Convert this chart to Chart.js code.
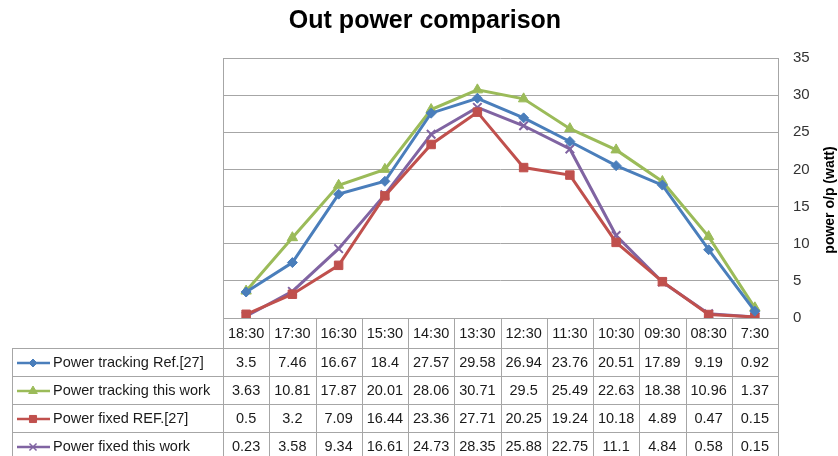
<!DOCTYPE html>
<html>
<head>
<meta charset="utf-8">
<script src="https://cdn.jsdelivr.net/npm/chart.js@4"></script>
<style>
    html, body { margin: 0; padding: 0; background: #fff; }
    #wrap { width: 838px; height: 456px; position: relative; }
</style>
</head>
<body>
<div id="wrap"><canvas id="chart"></canvas></div>
<script>
const times = ['18:30', '17:30', '16:30', '15:30', '14:30', '13:30', '12:30', '11:30', '10:30', '09:30', '08:30', '7:30'];
const trackingRef = [3.5, 7.46, 16.67, 18.4, 27.57, 29.58, 26.94, 23.76, 20.51, 17.89, 9.19, 0.92];
const trackingThis = [3.63, 10.81, 17.87, 20.01, 28.06, 30.71, 29.5, 25.49, 22.63, 18.38, 10.96, 1.37];
const fixedRef = [0.5, 3.2, 7.09, 16.44, 23.36, 27.71, 20.25, 19.24, 10.18, 4.89, 0.47, 0.15];
const fixedThis = [0.23, 3.58, 9.34, 16.61, 24.73, 28.35, 25.88, 22.75, 11.1, 4.84, 0.58, 0.15];
const yTicks = [0, 5, 10, 15, 20, 25, 30, 35];

const seriesNames = ['Power tracking Ref.[27]', 'Power tracking this work', 'Power fixed REF.[27]', 'Power fixed this work'];
const seriesData = [trackingRef, trackingThis, fixedRef, fixedThis];
const colors = ['#4a7ebb', '#9bbb59', '#c0504d', '#8064a2'];
const markers = ['rectRot', 'triangle', 'rect', 'crossRot'];
const markerSizes = [5, 6, 6, 6];

const gridColor = '#a6a6a6';
const fontFamily = '"Liberation Sans", Arial, sans-serif';
const textFont = '14.5px ' + fontFamily;

// Title, axis title and the data table under the plot
const tablePlugin = {
    id: 'tablePlugin',
    afterDraw(chart) {
        const ctx = chart.ctx;
        const area = chart.chartArea;
        const x = chart.scales.x;
        const half = (x.getPixelForValue(1) - x.getPixelForValue(0)) / 2;
        const headTop = area.bottom;
        const headBottom = headTop + 30;
        const rowH = 28;
        const legendLeft = 12;

        ctx.save();

        // title
        ctx.fillStyle = '#000';
        ctx.font = 'bold 25px ' + fontFamily;
        ctx.textAlign = 'center';
        ctx.textBaseline = 'middle';
        ctx.fillText('Out power comparison', 425, 21);

        // y axis title
        ctx.save();
        ctx.translate(830, 200);
        ctx.rotate(-Math.PI / 2);
        ctx.font = 'bold 14px ' + fontFamily;
        ctx.fillText('power o/p (watt)', 0, 0);
        ctx.restore();

        // plot left border
        ctx.strokeStyle = gridColor;
        ctx.lineWidth = 1;
        ctx.beginPath();
        ctx.moveTo(area.left + 0.5, area.top);
        ctx.lineTo(area.left + 0.5, area.bottom);
        ctx.stroke();

        const bottom = headBottom + rowH * seriesNames.length;

        // horizontal table lines
        ctx.beginPath();
        ctx.moveTo(area.left, headTop + 0.5);
        ctx.lineTo(area.right, headTop + 0.5);
        for (let r = 0; r <= seriesNames.length; r++) {
            const yy = Math.round(headBottom + r * rowH) + 0.5;
            ctx.moveTo(legendLeft, yy);
            ctx.lineTo(area.right, yy);
        }
        // vertical table lines
        for (let i = 0; i <= times.length; i++) {
            const xx = Math.round(x.getPixelForValue(0) - half + i * 2 * half) + 0.5;
            ctx.moveTo(xx, headTop);
            ctx.lineTo(xx, bottom);
        }
        ctx.moveTo(legendLeft + 0.5, headBottom);
        ctx.lineTo(legendLeft + 0.5, bottom);
        ctx.stroke();

        // header labels
        ctx.font = textFont;
        ctx.fillStyle = '#1a1a1a';
        ctx.textAlign = 'center';
        times.forEach((t, i) => {
            ctx.fillText(t, x.getPixelForValue(i), (headTop + headBottom) / 2 + 1);
        });

        // rows
        seriesNames.forEach((name, r) => {
            const cy = headBottom + r * rowH + rowH / 2 + 1;
            // legend key
            ctx.strokeStyle = colors[r];
            ctx.fillStyle = colors[r];
            ctx.lineWidth = 2.5;
            ctx.beginPath();
            ctx.moveTo(17, cy);
            ctx.lineTo(50, cy);
            ctx.stroke();
            ctx.lineWidth = markers[r] === 'crossRot' ? 1.5 : 1;
            Chart.helpers.drawPoint(ctx, {
                pointStyle: markers[r],
                radius: markerSizes[r] - 1,
                rotation: 0,
                borderWidth: ctx.lineWidth
            }, 33, cy);
            ctx.fillStyle = '#1a1a1a';
            ctx.textAlign = 'left';
            ctx.fillText(name, 53, cy);
            ctx.textAlign = 'center';
            seriesData[r].forEach((v, i) => {
                ctx.fillText(String(v), x.getPixelForValue(i), cy);
            });
        });

        ctx.restore();
    }
};

new Chart(document.getElementById('chart'), {
    type: 'line',
    data: {
        labels: times,
        datasets: seriesNames.map((name, i) => ({
            label: name,
            data: seriesData[i],
            borderColor: colors[i],
            backgroundColor: colors[i],
            borderWidth: 3,
            pointStyle: markers[i],
            pointRadius: markerSizes[i],
            pointBorderColor: colors[i],
            pointBackgroundColor: colors[i],
            pointBorderWidth: markers[i] === 'crossRot' ? 2 : 1,
            tension: 0,
            fill: false
        }))
    },
    options: {
        responsive: true,
        maintainAspectRatio: false,
        animation: false,
        layout: { padding: { left: 223, right: 0, top: 58, bottom: 138 } },
        plugins: {
            legend: { display: false },
            title: { display: false },
            tooltip: { enabled: false }
        },
        scales: {
            x: {
                type: 'category',
                offset: true,
                display: false
            },
            y: {
                position: 'right',
                min: 0,
                max: 35,
                afterBuildTicks: scale => {
                    scale.ticks = yTicks.map(v => ({ value: v }));
                },
                afterFit: scale => { scale.width = 60; },
                grid: { color: gridColor, drawTicks: false },
                border: { display: true, color: gridColor },
                ticks: {
                    padding: 15,
                    color: '#333',
                    font: { family: fontFamily, size: 15 }
                }
            }
        }
    },
    plugins: [tablePlugin]
});
</script>
</body>
</html>
